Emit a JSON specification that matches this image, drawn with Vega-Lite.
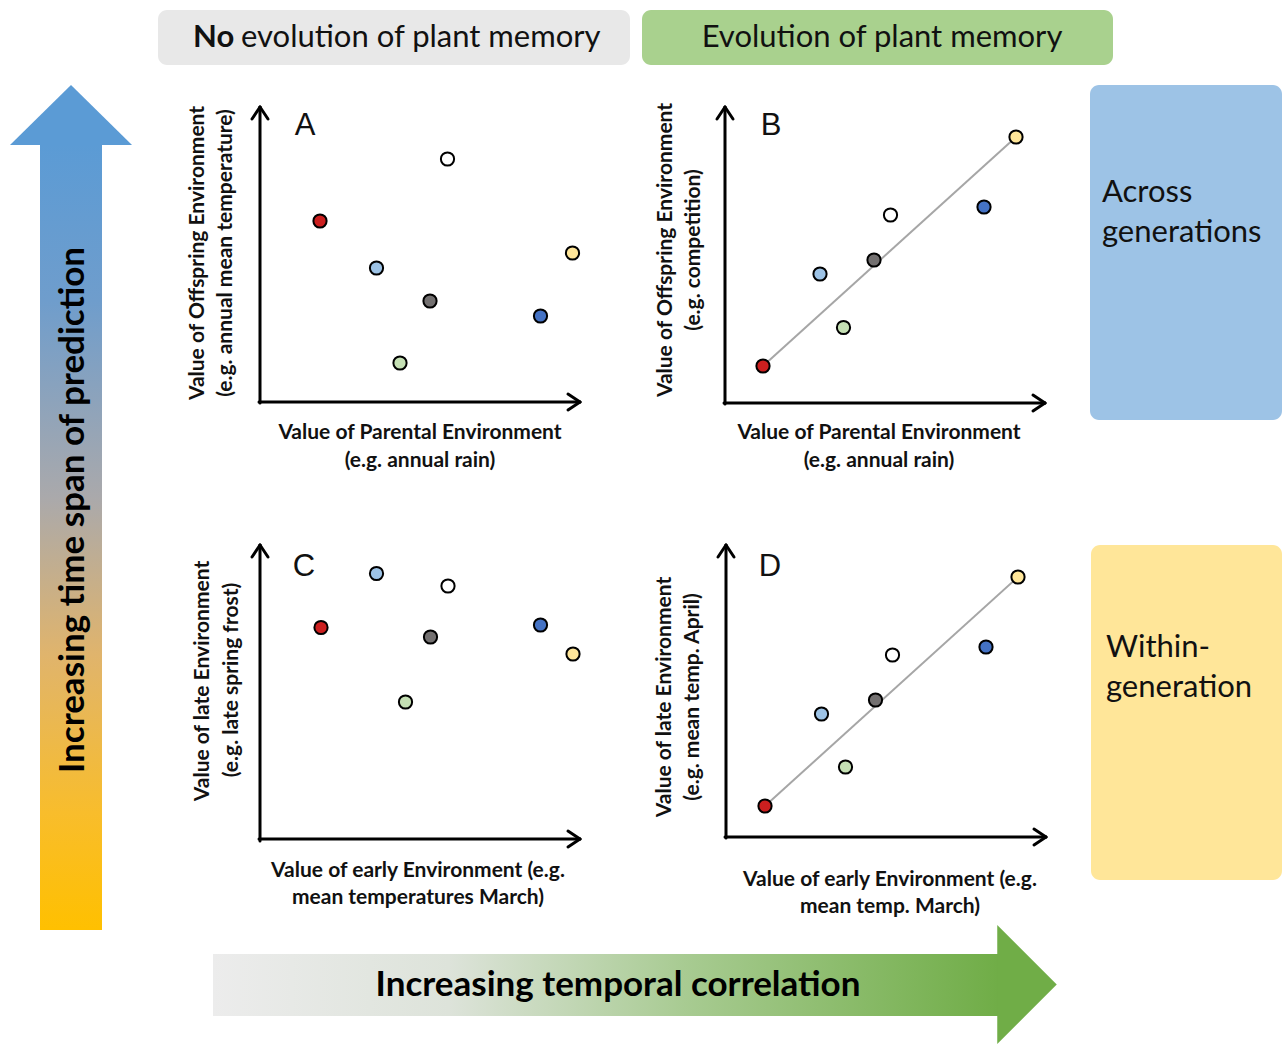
{
  "$schema": "https://vega.github.io/schema/vega-lite/v6.json",
  "width": 1282,
  "height": 1044,
  "autosize": {"type": "fit", "contains": "padding"},
  "padding": 0,
  "background": "white",
  "config": {"view": {"stroke": null}, "font": "Lato"},
  "datasets": {
    "boxes": [
      {"kind": "no", "x": 158, "x2": 630, "y": 10, "y2": 65},
      {"kind": "evo", "x": 642, "x2": 1113, "y": 10, "y2": 65},
      {"kind": "across", "x": 1090, "x2": 1282, "y": 85, "y2": 420},
      {"kind": "within", "x": 1091, "x2": 1282, "y": 545, "y2": 880}
    ],
    "shafts": [
      {"kind": "time", "x": 40, "x2": 102, "y": 144, "y2": 930},
      {"kind": "corr", "x": 213, "x2": 998, "y": 954, "y2": 1016}
    ],
    "heads": [
      {"kind": "time", "x": 71, "y": 115},
      {"kind": "corr", "x": 1027, "y": 984.5}
    ],
    "fits": [
      {"panel": "B", "x": 763, "y": 366, "x2": 1016, "y2": 137},
      {"panel": "D", "x": 765, "y": 806, "x2": 1018, "y2": 577}
    ],
    "axes": [
      {"panel": "A", "x": 260, "y": 403, "x2": 260, "y2": 107},
      {"panel": "A", "x": 260, "y": 107, "x2": 252, "y2": 119},
      {"panel": "A", "x": 260, "y": 107, "x2": 268, "y2": 119},
      {"panel": "A", "x": 259, "y": 402, "x2": 580, "y2": 402},
      {"panel": "A", "x": 580, "y": 402, "x2": 568, "y2": 394},
      {"panel": "A", "x": 580, "y": 402, "x2": 568, "y2": 410},
      {"panel": "B", "x": 725, "y": 404, "x2": 725, "y2": 107},
      {"panel": "B", "x": 725, "y": 107, "x2": 717, "y2": 119},
      {"panel": "B", "x": 725, "y": 107, "x2": 733, "y2": 119},
      {"panel": "B", "x": 724, "y": 403, "x2": 1045, "y2": 403},
      {"panel": "B", "x": 1045, "y": 403, "x2": 1033, "y2": 395},
      {"panel": "B", "x": 1045, "y": 403, "x2": 1033, "y2": 411},
      {"panel": "C", "x": 260, "y": 841, "x2": 260, "y2": 545},
      {"panel": "C", "x": 260, "y": 545, "x2": 252, "y2": 557},
      {"panel": "C", "x": 260, "y": 545, "x2": 268, "y2": 557},
      {"panel": "C", "x": 259, "y": 839, "x2": 580, "y2": 839},
      {"panel": "C", "x": 580, "y": 839, "x2": 568, "y2": 831},
      {"panel": "C", "x": 580, "y": 839, "x2": 568, "y2": 847},
      {"panel": "D", "x": 726, "y": 838, "x2": 726, "y2": 545},
      {"panel": "D", "x": 726, "y": 545, "x2": 718, "y2": 557},
      {"panel": "D", "x": 726, "y": 545, "x2": 734, "y2": 557},
      {"panel": "D", "x": 725, "y": 837, "x2": 1046, "y2": 837},
      {"panel": "D", "x": 1046, "y": 837, "x2": 1034, "y2": 829},
      {"panel": "D", "x": 1046, "y": 837, "x2": 1034, "y2": 845}
    ],
    "points": [
      {"panel": "A", "site": "red", "x": 320, "y": 221},
      {"panel": "A", "site": "white", "x": 447.5, "y": 159},
      {"panel": "A", "site": "lightblue", "x": 376.5, "y": 268},
      {"panel": "A", "site": "grey", "x": 430, "y": 301},
      {"panel": "A", "site": "green", "x": 400, "y": 363},
      {"panel": "A", "site": "blue", "x": 540.5, "y": 316},
      {"panel": "A", "site": "yellow", "x": 572.5, "y": 253},
      {"panel": "B", "site": "red", "x": 763, "y": 366},
      {"panel": "B", "site": "white", "x": 890.5, "y": 215},
      {"panel": "B", "site": "lightblue", "x": 820, "y": 274},
      {"panel": "B", "site": "grey", "x": 874, "y": 260},
      {"panel": "B", "site": "green", "x": 843.5, "y": 327.5},
      {"panel": "B", "site": "blue", "x": 984, "y": 207},
      {"panel": "B", "site": "yellow", "x": 1016, "y": 137},
      {"panel": "C", "site": "red", "x": 321, "y": 627.5},
      {"panel": "C", "site": "white", "x": 448, "y": 586},
      {"panel": "C", "site": "lightblue", "x": 376.5, "y": 573.5},
      {"panel": "C", "site": "grey", "x": 430.5, "y": 637},
      {"panel": "C", "site": "green", "x": 405.5, "y": 702},
      {"panel": "C", "site": "blue", "x": 540.5, "y": 625},
      {"panel": "C", "site": "yellow", "x": 573, "y": 654},
      {"panel": "D", "site": "red", "x": 765, "y": 806},
      {"panel": "D", "site": "white", "x": 892.5, "y": 655},
      {"panel": "D", "site": "lightblue", "x": 821.5, "y": 714},
      {"panel": "D", "site": "grey", "x": 875.5, "y": 700},
      {"panel": "D", "site": "green", "x": 845.5, "y": 767},
      {"panel": "D", "site": "blue", "x": 986, "y": 647},
      {"panel": "D", "site": "yellow", "x": 1018, "y": 577}
    ],
    "texts": [
      {"role": "hdrBold", "text": "No", "x": 193, "y": 38},
      {"role": "hdrLeft", "text": "evolution of plant memory", "x": 241, "y": 38},
      {"role": "hdrCenter", "text": "Evolution of plant memory", "x": 882, "y": 38},
      {"role": "letter", "text": "A", "x": 305, "y": 126},
      {"role": "letter", "text": "B", "x": 771, "y": 126},
      {"role": "letter", "text": "C", "x": 304, "y": 567},
      {"role": "letter", "text": "D", "x": 770, "y": 567},
      {"role": "xtitle", "text": "Value of Parental Environment", "x": 420, "y": 433},
      {"role": "xtitle", "text": "(e.g. annual rain)", "x": 420, "y": 461},
      {"role": "xtitle", "text": "Value of Parental Environment", "x": 879, "y": 433},
      {"role": "xtitle", "text": "(e.g. annual rain)", "x": 879, "y": 461},
      {"role": "xtitle", "text": "Value of early Environment (e.g.", "x": 418, "y": 871},
      {"role": "xtitle", "text": "mean temperatures March)", "x": 418, "y": 898},
      {"role": "xtitle", "text": "Value of early Environment (e.g.", "x": 890, "y": 880},
      {"role": "xtitle", "text": "mean temp. March)", "x": 890, "y": 907},
      {"role": "ytitle", "text": "Value of Offspring Environment", "x": 198, "y": 253},
      {"role": "ytitle", "text": "(e.g. annual mean temperature)", "x": 226, "y": 253},
      {"role": "ytitle", "text": "Value of Offspring Environment", "x": 666, "y": 250},
      {"role": "ytitle", "text": "(e.g. competition)", "x": 694, "y": 250},
      {"role": "ytitle", "text": "Value of late Environment", "x": 203, "y": 681},
      {"role": "ytitle", "text": "(e.g. late spring frost)", "x": 232, "y": 680},
      {"role": "ytitle", "text": "Value of late Environment", "x": 665, "y": 697},
      {"role": "ytitle", "text": "(e.g. mean temp. April)", "x": 693, "y": 697},
      {"role": "bigV", "text": "Increasing time span of prediction", "x": 73, "y": 510},
      {"role": "bigH", "text": "Increasing temporal correlation", "x": 618, "y": 985},
      {"role": "side", "text": "Across", "x": 1102, "y": 193},
      {"role": "side", "text": "generations", "x": 1102, "y": 233},
      {"role": "side", "text": "Within-", "x": 1106, "y": 648},
      {"role": "side", "text": "generation", "x": 1106, "y": 688}
    ]
  },
  "encoding": {
    "x": {"field": "x", "type": "quantitative", "scale": {"domain": [0, 1282], "nice": false, "zero": false}, "axis": null},
    "y": {"field": "y", "type": "quantitative", "scale": {"domain": [0, 1044], "reverse": true, "nice": false, "zero": false}, "axis": null}
  },
  "layer": [
    {
      "data": {"name": "boxes"},
      "mark": {"type": "rect", "cornerRadius": 9},
      "encoding": {
        "x2": {"field": "x2"},
        "y2": {"field": "y2"},
        "color": {"field": "kind", "type": "nominal", "legend": null,
          "scale": {"domain": ["no", "evo", "across", "within"], "range": ["#e8e8e8", "#a9d18e", "#9dc3e6", "#ffe699"]}}
      }
    },
    {
      "data": {"name": "shafts"},
      "transform": [{"filter": "datum.kind === 'time'"}],
      "mark": {"type": "rect", "fill": {"gradient": "linear", "x1": 0, "y1": 0, "x2": 0, "y2": 1,
        "stops": [
          {"offset": 0, "color": "#5b9bd5"},
          {"offset": 0.2, "color": "#6f9dcc"},
          {"offset": 0.45, "color": "#aaa9ab"},
          {"offset": 0.65, "color": "#e0b46c"},
          {"offset": 0.85, "color": "#f8bd2c"},
          {"offset": 1, "color": "#ffc000"}
        ]}},
      "encoding": {"x2": {"field": "x2"}, "y2": {"field": "y2"}}
    },
    {
      "data": {"name": "shafts"},
      "transform": [{"filter": "datum.kind === 'corr'"}],
      "mark": {"type": "rect", "fill": {"gradient": "linear", "x1": 0, "y1": 0, "x2": 1, "y2": 0,
        "stops": [
          {"offset": 0, "color": "#ececec"},
          {"offset": 0.3, "color": "#dde3da"},
          {"offset": 0.6, "color": "#a8cb92"},
          {"offset": 1, "color": "#70ad47"}
        ]}},
      "encoding": {"x2": {"field": "x2"}, "y2": {"field": "y2"}}
    },
    {
      "data": {"name": "heads"},
      "transform": [{"filter": "datum.kind === 'time'"}],
      "mark": {"type": "point", "filled": true, "opacity": 1, "color": "#5b9bd5", "strokeWidth": 0, "size": 14884,
        "shape": "M-1,0.4918L0,-0.4918L1,0.4918Z"}
    },
    {
      "data": {"name": "heads"},
      "transform": [{"filter": "datum.kind === 'corr'"}],
      "mark": {"type": "point", "filled": true, "opacity": 1, "color": "#70ad47", "strokeWidth": 0, "size": 14161,
        "shape": "M-0.5,-1L0.5,0L-0.5,1Z"}
    },
    {
      "data": {"name": "fits"},
      "mark": {"type": "rule", "color": "#a6a6a6", "strokeWidth": 2},
      "encoding": {"x2": {"field": "x2"}, "y2": {"field": "y2"}}
    },
    {
      "data": {"name": "axes"},
      "mark": {"type": "rule", "color": "#000000", "strokeWidth": 3, "strokeCap": "round"},
      "encoding": {"x2": {"field": "x2"}, "y2": {"field": "y2"}}
    },
    {
      "data": {"name": "points"},
      "mark": {"type": "point", "shape": "circle", "filled": true, "opacity": 1, "size": 175, "stroke": "#000000", "strokeWidth": 2},
      "encoding": {
        "fill": {"field": "site", "type": "nominal", "legend": null,
          "scale": {"domain": ["red", "white", "lightblue", "grey", "green", "blue", "yellow"],
                    "range": ["#cc1f1f", "#ffffff", "#9dc3e6", "#737070", "#c5e0b4", "#4472c4", "#ffe699"]}}
      }
    },
    {
      "data": {"name": "texts"},
      "transform": [{"filter": "datum.role === 'hdrBold'"}],
      "mark": {"type": "text", "align": "left", "baseline": "middle", "fontSize": 31, "fontWeight": "bold", "color": "#111111"},
      "encoding": {"text": {"field": "text"}}
    },
    {
      "data": {"name": "texts"},
      "transform": [{"filter": "datum.role === 'hdrLeft'"}],
      "mark": {"type": "text", "align": "left", "baseline": "middle", "fontSize": 31, "color": "#111111"},
      "encoding": {"text": {"field": "text"}}
    },
    {
      "data": {"name": "texts"},
      "transform": [{"filter": "datum.role === 'hdrCenter'"}],
      "mark": {"type": "text", "align": "center", "baseline": "middle", "fontSize": 31, "color": "#111111"},
      "encoding": {"text": {"field": "text"}}
    },
    {
      "data": {"name": "texts"},
      "transform": [{"filter": "datum.role === 'letter'"}],
      "mark": {"type": "text", "align": "center", "baseline": "middle", "fontSize": 31, "font": "Liberation Sans", "color": "#111111"},
      "encoding": {"text": {"field": "text"}}
    },
    {
      "data": {"name": "texts"},
      "transform": [{"filter": "datum.role === 'xtitle'"}],
      "mark": {"type": "text", "align": "center", "baseline": "middle", "fontSize": 21, "fontWeight": "bold", "color": "#111111"},
      "encoding": {"text": {"field": "text"}}
    },
    {
      "data": {"name": "texts"},
      "transform": [{"filter": "datum.role === 'ytitle'"}],
      "mark": {"type": "text", "align": "center", "baseline": "middle", "angle": 270, "fontSize": 21, "fontWeight": "bold", "color": "#111111"},
      "encoding": {"text": {"field": "text"}}
    },
    {
      "data": {"name": "texts"},
      "transform": [{"filter": "datum.role === 'bigV'"}],
      "mark": {"type": "text", "align": "center", "baseline": "middle", "angle": 270, "fontSize": 35, "fontWeight": "bold", "color": "#000000"},
      "encoding": {"text": {"field": "text"}}
    },
    {
      "data": {"name": "texts"},
      "transform": [{"filter": "datum.role === 'bigH'"}],
      "mark": {"type": "text", "align": "center", "baseline": "middle", "fontSize": 35, "fontWeight": "bold", "color": "#000000"},
      "encoding": {"text": {"field": "text"}}
    },
    {
      "data": {"name": "texts"},
      "transform": [{"filter": "datum.role === 'side'"}],
      "mark": {"type": "text", "align": "left", "baseline": "middle", "fontSize": 31, "color": "#111111"},
      "encoding": {"text": {"field": "text"}}
    }
  ]
}
